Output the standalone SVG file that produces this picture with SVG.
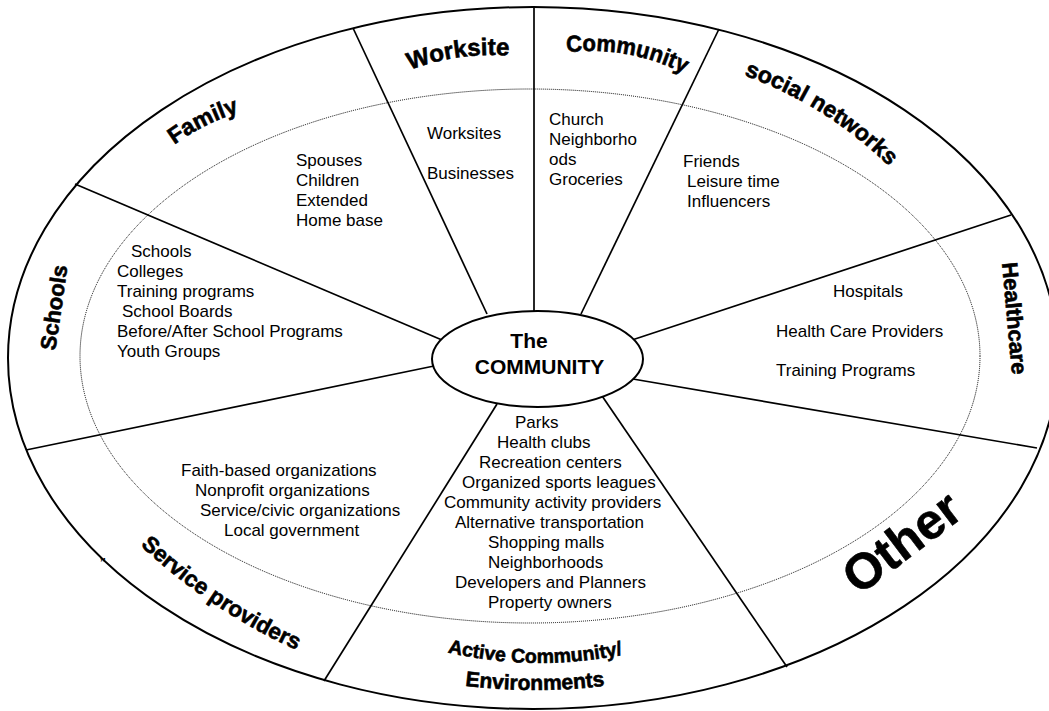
<svg xmlns="http://www.w3.org/2000/svg" width="1049" height="711" viewBox="0 0 1049 711">
  <style>
    .ring { fill: none; stroke: #000; stroke-width: 2; }
    .dots { fill: none; stroke: #000; stroke-width: 1; stroke-dasharray: 1 1; }
    .spoke { stroke: #000; stroke-width: 1.7; fill: none; }
    .hub { fill: #fff; stroke: #000; stroke-width: 2; }
    .item { font-family: "Liberation Sans", Arial, sans-serif; font-size: 17px; fill: #000; }
    .label { font-family: "Liberation Sans", Arial, sans-serif; font-weight: bold; fill: #000; stroke: #000; stroke-width: 0.6; }
    .hubtext { font-family: "Liberation Sans", Arial, sans-serif; font-weight: bold; font-size: 21px; fill: #000; text-anchor: middle; }
  </style>
  <defs>
    <!-- baselines for the curved sector titles -->
    <path id="arc-family" d="M88,274.5 A224,224 0 0 1 394.6,120.3"/>
    <path id="arc-worksite" d="M293.1,165.7 A234,234 0 0 1 648,114.6"/>
    <path id="arc-community" d="M457.8,98.7 A207,207 0 0 1 769.8,155.4"/>
    <path id="arc-social" d="M555.3,55.8 A398,398 0 0 1 988.7,327.7"/>
    <path id="line-health" d="M1001,252 L1013,386"/>
    <path id="line-schools" d="M54.35,358 L68.65,259"/>
    <path id="arc-service" d="M18.8,381 A573,573 0 0 0 495,699.7"/>
    <path id="arc-active" d="M331.7,605.8 A408,408 0 0 0 739.7,610.8"/>
    <path id="arc-env" d="M336.6,655 A580,580 0 0 0 733.4,655"/>
  </defs>

  <rect width="1049" height="711" fill="#fff"/>

  <!-- outer and inner rings -->
  <ellipse class="ring" cx="533" cy="358" rx="525" ry="351"/>
  <ellipse class="dots" cx="530" cy="356" rx="450" ry="267"/>

  <!-- spokes dividing the sectors -->
  <g id="connectors">
    <path class="spoke" d="M534,314 L534,7"/>
    <path class="spoke" d="M487,314 L353,28"/>
    <path class="spoke" d="M581,314 L719,29"/>
    <path class="spoke" d="M632,340 L1011,215"/>
    <path class="spoke" d="M627,378 L1037,448"/>
    <path class="spoke" d="M598,390 L787,667"/>
    <path class="spoke" d="M497,404 L324,681"/>
    <path class="spoke" d="M434,366 L26,450"/>
    <path class="spoke" d="M442,340 L75,184"/>
  </g>

  <!-- centre -->
  <g id="hub">
    <ellipse class="hub" cx="537.5" cy="359" rx="105.5" ry="48"/>
    <text class="hubtext" x="529" y="348">The</text>
    <text class="hubtext" x="539.5" y="374">COMMUNITY</text>
  </g>

  <g id="family">
    <text class="label" font-size="23" text-anchor="middle"><textPath href="#arc-family" startOffset="50%">Family</textPath></text>
    <text class="item" x="296" y="166">Spouses</text>
    <text class="item" x="296" y="186">Children</text>
    <text class="item" x="296" y="206">Extended</text>
    <text class="item" x="296" y="226">Home base</text>
  </g>

  <g id="worksite">
    <text class="label" font-size="24" text-anchor="middle"><textPath href="#arc-worksite" startOffset="50%">Worksite</textPath></text>
    <text class="item" x="427" y="139">Worksites</text>
    <text class="item" x="427" y="179">Businesses</text>
  </g>

  <g id="community">
    <text class="label" font-size="23" text-anchor="middle"><textPath href="#arc-community" startOffset="50%" textLength="121" lengthAdjust="spacingAndGlyphs">Community</textPath></text>
    <text class="item" x="549" y="125">Church</text>
    <text class="item" x="549" y="145">Neighborho</text>
    <text class="item" x="549" y="165">ods</text>
    <text class="item" x="549" y="185">Groceries</text>
  </g>

  <g id="social-networks">
    <text class="label" font-size="23" text-anchor="middle"><textPath href="#arc-social" startOffset="50%">social networks</textPath></text>
    <text class="item" x="683" y="167">Friends</text>
    <text class="item" x="687" y="187">Leisure time</text>
    <text class="item" x="687" y="207">Influencers</text>
  </g>

  <g id="healthcare">
    <text class="label" font-size="22" text-anchor="middle"><textPath href="#line-health" startOffset="50%">Healthcare</textPath></text>
    <text class="item" x="833" y="297">Hospitals</text>
    <text class="item" x="776" y="337">Health Care Providers</text>
    <text class="item" x="776" y="376">Training Programs</text>
  </g>

  <g id="schools">
    <text class="label" font-size="22" text-anchor="middle"><textPath href="#line-schools" startOffset="50%">Schools</textPath></text>
    <text class="item" x="131" y="257">Schools</text>
    <text class="item" x="117" y="277">Colleges</text>
    <text class="item" x="117" y="297">Training programs</text>
    <text class="item" x="122" y="317">School Boards</text>
    <text class="item" x="117" y="337">Before/After School Programs</text>
    <text class="item" x="117" y="357">Youth Groups</text>
  </g>

  <g id="service-providers">
    <text class="label" font-size="22.5" text-anchor="middle"><textPath href="#arc-service" startOffset="50%">Service providers</textPath></text>
    <text class="item" x="181" y="476">Faith-based organizations</text>
    <text class="item" x="195" y="496">Nonprofit organizations</text>
    <text class="item" x="200" y="516">Service/civic organizations</text>
    <text class="item" x="224" y="536">Local government</text>
    <text class="item" x="100" y="570" font-size="10">”</text>
  </g>

  <g id="active-community">
    <text class="label" font-size="19.5" text-anchor="middle"><textPath href="#arc-active" startOffset="50%">Active Community/</textPath></text>
    <text class="label" font-size="21" text-anchor="middle"><textPath href="#arc-env" startOffset="50%">Environments</textPath></text>
    <text class="item" x="515" y="428">Parks</text>
    <text class="item" x="497" y="448">Health clubs</text>
    <text class="item" x="479" y="468">Recreation centers</text>
    <text class="item" x="462" y="488">Organized sports leagues</text>
    <text class="item" x="444" y="508">Community activity providers</text>
    <text class="item" x="455" y="528">Alternative transportation</text>
    <text class="item" x="488" y="548">Shopping malls</text>
    <text class="item" x="488" y="568">Neighborhoods</text>
    <text class="item" x="455" y="588">Developers and Planners</text>
    <text class="item" x="488" y="608">Property owners</text>
  </g>

  <g id="other">
    <text class="label" font-size="50" text-anchor="middle" transform="translate(912,556) rotate(-37)">Other</text>
  </g>
</svg>
